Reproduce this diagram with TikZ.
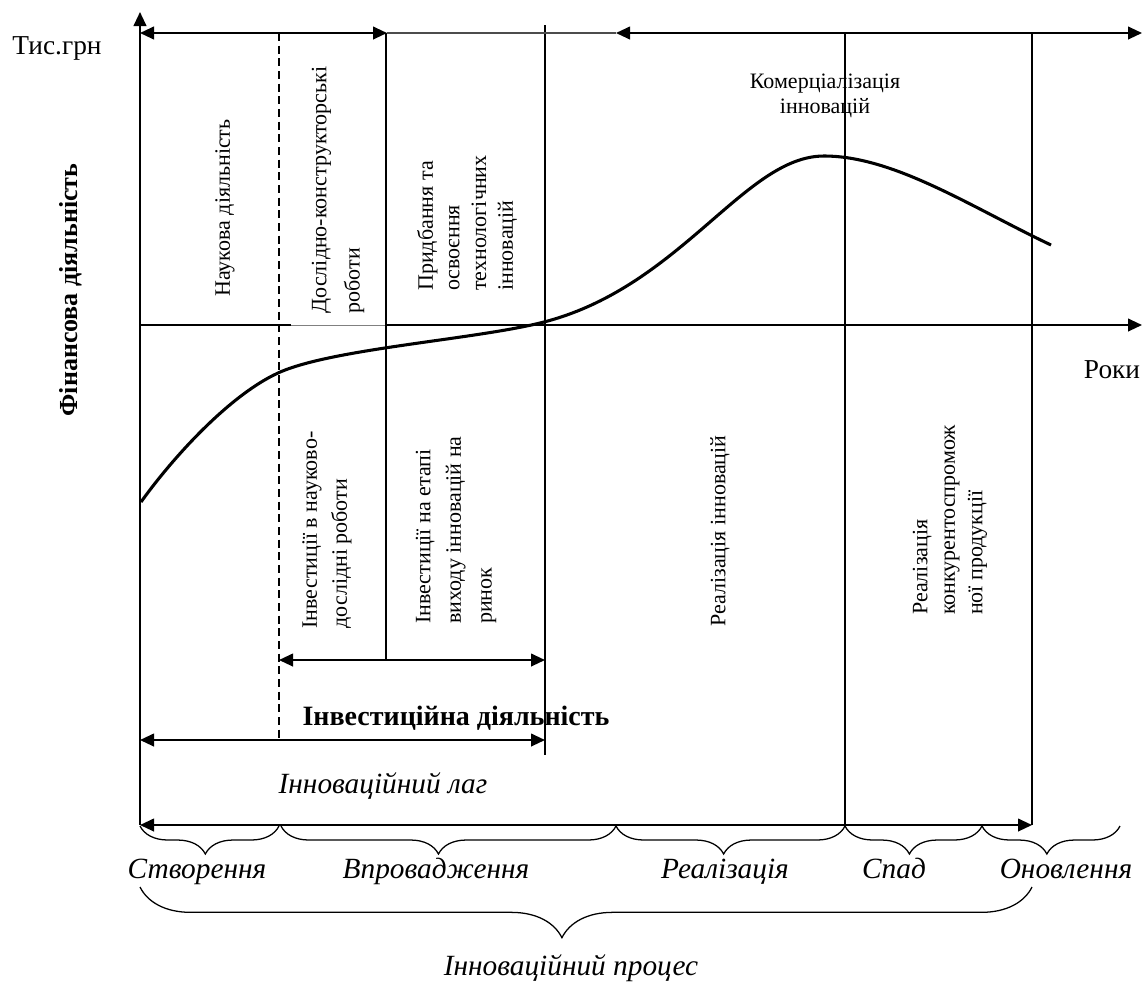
\documentclass[tikz,border=0pt]{standalone}
\usepackage{fontspec}
\setmainfont{Liberation Serif}
\usetikzlibrary{arrows.meta,decorations.pathreplacing}
\begin{document}
\begin{tikzpicture}[x=0.75pt,y=-0.75pt,
  >={Triangle[length=10.5pt,width=9.5pt]},
  axisln/.style={line width=1.5pt},
  thinln/.style={line width=0.95pt},
  dashln/.style={line width=0.95pt,dash pattern=on 6pt off 3.5pt},
  curveln/.style={line width=2.3pt},
  brc/.style={line width=0.95pt,decorate,decoration={brace,mirror,amplitude=21pt,aspect=0.47}},
  txt/.style={inner sep=0pt,font=\fontsize{16.5}{20}\selectfont},
  txtit/.style={inner sep=0pt,anchor=base,font=\fontsize{22}{26}\selectfont\itshape},
  txtbf/.style={inner sep=0pt,font=\fontsize{21}{25}\selectfont\bfseries},
  txtax/.style={inner sep=0pt,font=\fontsize{20.5}{24}\selectfont}
]
\useasboundingbox (0,0) rectangle (1144,983);
% named points
\coordinate (O) at (140,325);
\coordinate (Yt) at (140,12);
\coordinate (Yb) at (140,825);
\coordinate (Xe) at (1142,325);
\coordinate (T0) at (140,33);
\coordinate (T1) at (387,33);
\coordinate (T2) at (616,33);
\coordinate (T3) at (1142,33);
\coordinate (Dt) at (279,33);  \coordinate (Db) at (279,740);
\coordinate (At) at (386,33);  \coordinate (Ab) at (386,660);
\coordinate (Bt) at (545,25);  \coordinate (Bb) at (545,755);
\coordinate (Ct) at (845,33);  \coordinate (Cb) at (845,825);
\coordinate (Et) at (1032,33); \coordinate (Eb) at (1032,825);
\coordinate (M1a) at (279,660); \coordinate (M1b) at (545,660);
\coordinate (M2a) at (140,740); \coordinate (M2b) at (545,740);
\coordinate (Wa) at (291,325); \coordinate (Wb) at (385,325);
\coordinate (C0) at (141,502);
\coordinate (C1) at (278,373);
\coordinate (C2) at (540,323);
\coordinate (C3) at (824,156);
\coordinate (C4) at (1051,245);

% vertical lines
\draw[thinln] (At) -- (Ab);
\draw[axisln] (At) -- ++(0,17);
\draw[thinln] (Bt) -- (Bb);
\draw[thinln] (Ct) -- (Cb);
\draw[thinln] (Et) -- (Eb);
\draw[dashln] (Dt) -- (Db);

% axes
\draw[axisln,->] (Yb) -- (Yt);
\draw[axisln,->] (O) -- (Xe);
\fill[white] (291,322) rectangle (385,328);
\draw[line width=0.6pt,gray] (Wa) -- (Wb);

% top arrows
\draw[axisln,<->] (T0) -- (T1);
\draw[line width=0.8pt,black!70] (T1) -- (T2);
\draw[axisln,<->] (T2) -- (T3);

% middle and bottom arrows
\draw[axisln,<->] (M1a) -- (M1b);
\draw[axisln,<->] (M2a) -- (M2b);
\draw[axisln,<->] (Yb) -- (Eb);

% curve
\draw[curveln] (C0) .. controls (171,460) and (228,396) .. (C1)
  .. controls (330,349) and (470,340) .. (C2)
  .. controls (680,289) and (744,156) .. (C3)
  .. controls (894,156) and (971,207) .. (C4);

% small braces
\draw[brc] (140,826) -- (279,826);
\draw[brc] (281,826) -- (616,826);
\draw[brc] (616,826) -- (845,826);
\draw[brc] (845,826) -- (982,826);
\draw[brc] (982,826) -- (1120,826);
% big brace
\draw[line width=0.95pt,decorate,decoration={brace,mirror,amplitude=38pt,aspect=0.473}] (140,887) -- (1032,887);

% axis labels
\node[txtax] (tg) at (57,48) {Тис.грн};
\node[txtax] (rk) at (1112,370) {Роки};
\node[txtbf,rotate=90,font=\fontsize{19.5}{23}\selectfont\bfseries] (fd) at (71,290) {Фінансова діяльність};

% upper texts
\node[txt,rotate=90] (nd) at (225,208) {Наукова діяльність};
\node[txt,rotate=90,align=left,font=\fontsize{16.5}{25}\selectfont] (dk) at (338,190) {Дослідно-конструкторські\\роботи};
\node[txt,rotate=90,align=left,font=\fontsize{16.5}{20}\selectfont] (pr) at (467,223) {Придбання та\\освоєння\\технологічних\\інновацій};
\node[txt,align=center,font=\fontsize{16.5}{19}\selectfont] (km) at (825,96) {Комерціалізація\\інновацій};

% lower texts
\node[txt,rotate=90,align=left,font=\fontsize{16.5}{22.5}\selectfont] (in1) at (327,530) {Інвестиції в науково-\\дослідні роботи};
\node[txt,rotate=90,align=left,font=\fontsize{16.5}{23}\selectfont] (in2) at (456,530) {Інвестиції на етапі\\виходу інновацій на\\ринок};
\node[txt,rotate=90] (ri) at (720,531) {Реалізація інновацій};
\node[txt,rotate=90,align=left,font=\fontsize{16.5}{20.6}\selectfont] (rp) at (950,520) {Реалізація\\конкурентоспромож\\ної продукції};

% bottom labels
\node[txtbf,anchor=base] (id) at (456,725) {Інвестиційна діяльність};
\node[txtit] (il) at (383,793) {Інноваційний лаг};
\node[txtit] (s1) at (197,878) {Створення};
\node[txtit] (s2) at (436,878) {Впровадження};
\node[txtit] (s3) at (725,878) {Реалізація};
\node[txtit] (s4) at (894,878) {Спад};
\node[txtit] (s5) at (1066,878) {Оновлення};
\node[txtit] (ip) at (571,975) {Інноваційний процес};
\end{tikzpicture}
\end{document}
